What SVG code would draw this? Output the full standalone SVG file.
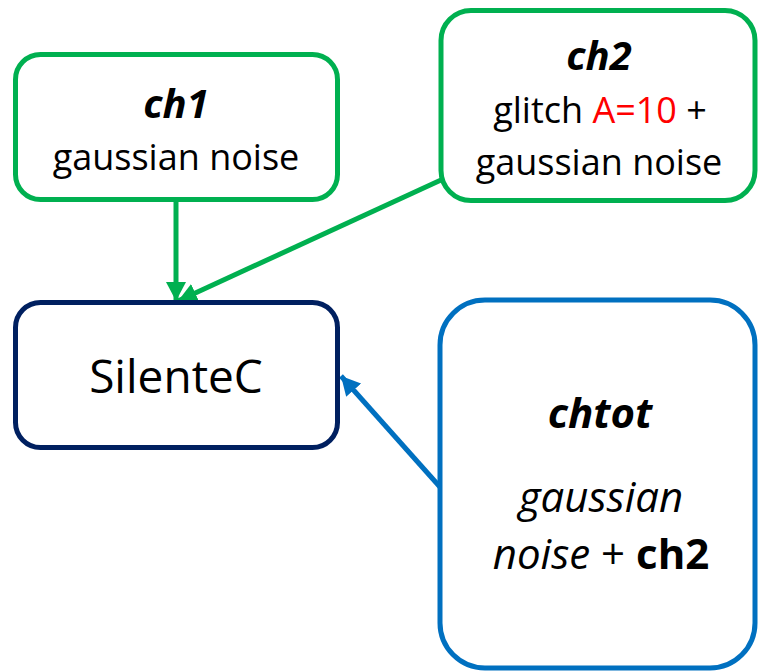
<svg xmlns="http://www.w3.org/2000/svg" width="758" height="671" viewBox="0 0 758 671">
<style>
.box{fill:#fff;stroke-width:5}
.g{stroke:#00B050}
.n{stroke:#002060}
.b{stroke:#0070C0}
text{font-family:"Open Sans","Noto Sans",sans-serif;fill:#000;text-anchor:middle}
.t{font-size:36px}
.h{font-size:40px;font-weight:bold;font-style:italic}
.c{font-size:42px}
.con{fill:none;stroke-width:5}
</style>
<defs>
<marker id="ag" markerUnits="userSpaceOnUse" markerWidth="22" markerHeight="22" refX="19" refY="10" orient="auto" viewBox="0 0 22 20">
<path d="M0,0 L19,10 L0,20 Z" fill="#00B050"/>
</marker>
<marker id="ab" markerUnits="userSpaceOnUse" markerWidth="22" markerHeight="22" refX="19" refY="10" orient="auto" viewBox="0 0 22 20">
<path d="M0,0 L19,10 L0,20 Z" fill="#0070C0"/>
</marker>
</defs>
<g id="connectors">
<line class="con g" x1="176" y1="200" x2="176" y2="301" marker-end="url(#ag)"/>
<line class="con g" x1="441" y1="180" x2="178" y2="301" marker-end="url(#ag)"/>
<line class="con b" x1="440" y1="487" x2="341" y2="376" marker-end="url(#ab)"/>
</g>
<g id="ch1">
<rect class="box g" x="15.5" y="54.5" width="322" height="145" rx="25"/>
<text class="h" x="176" y="118">ch1</text>
<text class="t" x="176" y="170">gaussian noise</text>
</g>
<g id="ch2">
<rect class="box g" x="441" y="10.5" width="314" height="190" rx="30"/>
<text class="h" x="599" y="70">ch2</text>
<text class="t" x="600" y="123" font-size="37">glitch <tspan fill="#FF0000">A=10</tspan> +</text>
<text class="t" x="599" y="175">gaussian noise</text>
</g>
<g id="silentec">
<rect class="box n" x="15.5" y="302.5" width="322" height="145" rx="25"/>
<text x="176" y="393" font-size="46">SilenteC</text>
</g>
<g id="chtot">
<rect class="box b" x="440" y="300" width="315" height="368" rx="45"/>
<text class="c" x="600" y="428" font-weight="bold" font-style="italic">chtot</text>
<text class="c" x="601" y="512" font-style="italic">gaussian</text>
<text class="c" x="601" y="569"><tspan font-style="italic">noise</tspan> + <tspan font-weight="bold">ch2</tspan></text>
</g>
</svg>
